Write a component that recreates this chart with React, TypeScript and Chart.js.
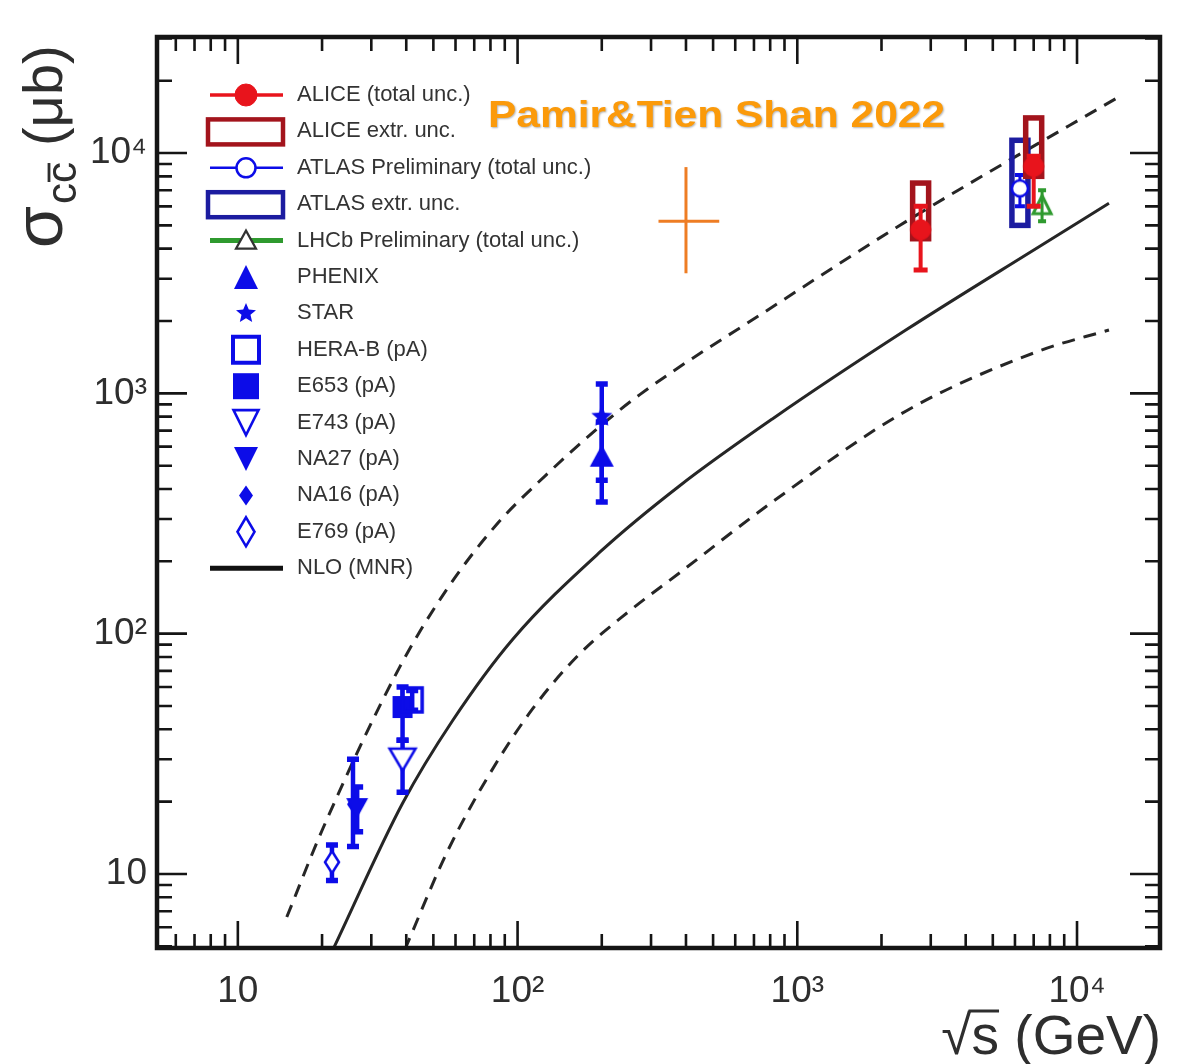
import React, { useEffect, useRef } from 'react';
import { Chart, registerables } from 'chart.js';

Chart.register(...registerables);

const FONT = '"Liberation Sans", Arial, Helvetica, sans-serif';
const INK = '#2e2e2e';

// ---------- axes ----------
const X_MIN = 5.14;
const X_MAX = 19800;
const Y_MIN = 4.92;
const Y_MAX = 30400;
const MAJOR_TICKS = [10, 100, 1000, 10000];
const MAJOR_LABELS = ['10', '10²', '10³', '10⁴'];
const MINOR_STEPS = [2, 3, 4, 5, 6, 7, 8, 9];
const DECADES = [1, 10, 100, 1000, 10000];

// ---------- NLO (MNR) curves ----------
const nloX = [21.84, 38.85, 58.61, 95.96, 196.3, 378.9, 814.4, 2451, 7316, 13010];
const nloY = [4.83, 19.75, 43.53, 94.6, 217.7, 411.7, 782.5, 1838, 4075, 6176];
const nloUpX = [14.96, 20.12, 37.89, 55.78, 84.14, 126.9, 196.3, 272.7, 814.4, 2314, 4014, 13780];
const nloUpY = [6.62, 15.42, 72.6, 152.6, 284.5, 459.3, 725.5, 985.8, 2287, 4983, 7325, 16860];
const nloLoX = [39.48, 55.78, 77.5, 113.1, 166.5, 251.2, 378.9, 814.4, 2451, 7316, 13010];
const nloLoY = [4.83, 12.23, 24.85, 48.6, 82.3, 124.3, 178.9, 353.2, 845, 1501, 1836];

// ---------- measurements ----------
const aliceX = [2760, 7000];
const aliceY = [4800, 8800];
const aliceLo = [3260, 6000];
const aliceHi = [6000, 9700];
const aliceExtrLo = [4400, 8000];
const aliceExtrHi = [7500, 14000];

const atlasX = [6250];
const atlasY = [7130];
const atlasLo = [6000];
const atlasHi = [8100];
const atlasExtrLo = [5000];
const atlasExtrHi = [11300];

const lhcbX = [7500];
const lhcbY = [6100];
const lhcbLo = [5200];
const lhcbHi = [7000];

const phenixX = [200];
const phenixY = [550];
const phenixLo = [353];
const phenixHi = [760];

const starX = [200];
const starY = [800];
const starLo = [435];
const starHi = [1093];

const herabX = [42];
const herabY = [53];
const herabLo = [48];
const herabHi = [58];

const e653X = [38.8];
const e653Y = [49.5];
const e653Lo = [36];
const e653Hi = [60];

const e743X = [38.8];
const e743Y = [29.9];
const e743Lo = [21.9];
const e743Hi = [36];

const na27X = [26.7];
const na27Y = [18.8];
const na27Lo = [15];
const na27Hi = [23];

const na16X = [25.8];
const na16Y = [19.5];
const na16Lo = [13];
const na16Hi = [30];

const e769X = [21.7];
const e769Y = [11.2];
const e769Lo = [9.4];
const e769Hi = [13.2];

const pamirX = [400];
const pamirY = [5200];
const pamirXLo = [319];
const pamirXHi = [526];
const pamirYLo = [3160];
const pamirYHi = [8740];

const LEGEND_LABELS = [
  'ALICE (total unc.)',
  'ALICE extr. unc.',
  'ATLAS Preliminary (total unc.)',
  'ATLAS extr. unc.',
  'LHCb Preliminary (total unc.)',
  'PHENIX',
  'STAR',
  'HERA-B (pA)',
  'E653 (pA)',
  'E743 (pA)',
  'NA27 (pA)',
  'NA16 (pA)',
  'E769 (pA)',
  'NLO (MNR)',
];

const ANNOTATION_TEXT = 'Pamir&Tien Shan 2022';

// ---------- colours ----------
const RED = '#e8141c';
const DARK_RED = '#a3141c';
const BLUE = '#0c0ce8';
const DARK_BLUE = '#1c1ca0';
const GREEN = '#2f9a2f';
const ORANGE = '#ee7d24';
const ORANGE_TEXT = '#fb9a0a';

const ALL_TICKS = DECADES.flatMap((d) => [1, ...MINOR_STEPS].map((m) => m * d));

function pts(xs: number[], ys: number[]) {
  return xs.map((x, i) => ({ x, y: ys[i] }));
}

function pathShape(ctx: CanvasRenderingContext2D, shape: string, cx: number, cy: number, w: number, h: number) {
  ctx.beginPath();
  switch (shape) {
    case 'circle':
      ctx.ellipse(cx, cy, w / 2, h / 2, 0, 0, Math.PI * 2);
      break;
    case 'square':
      ctx.rect(cx - w / 2, cy - h / 2, w, h);
      break;
    case 'triUp':
      ctx.moveTo(cx, cy - h / 2);
      ctx.lineTo(cx + w / 2, cy + h / 2);
      ctx.lineTo(cx - w / 2, cy + h / 2);
      ctx.closePath();
      break;
    case 'triDown':
      ctx.moveTo(cx - w / 2, cy - h / 2);
      ctx.lineTo(cx + w / 2, cy - h / 2);
      ctx.lineTo(cx, cy + h / 2);
      ctx.closePath();
      break;
    case 'diamond':
      ctx.moveTo(cx, cy - h / 2);
      ctx.lineTo(cx + w / 2, cy);
      ctx.lineTo(cx, cy + h / 2);
      ctx.lineTo(cx - w / 2, cy);
      ctx.closePath();
      break;
    case 'star': {
      const R = w / 2;
      const r = R * 0.45;
      for (let i = 0; i < 10; i++) {
        const rad = i % 2 === 0 ? R : r;
        const a = -Math.PI / 2 + (i * Math.PI) / 5;
        const px = cx + rad * Math.cos(a);
        const py = cy + rad * Math.sin(a);
        if (i === 0) ctx.moveTo(px, py);
        else ctx.lineTo(px, py);
      }
      ctx.closePath();
      break;
    }
  }
}

function drawShape(ctx: CanvasRenderingContext2D, shape: string, cx: number, cy: number, w: number, h: number, fill: string | null, stroke: string | null, lw: number) {
  pathShape(ctx, shape, cx, cy, w, h);
  if (fill) {
    ctx.fillStyle = fill;
    ctx.fill();
  }
  if (stroke) {
    ctx.lineWidth = lw;
    ctx.strokeStyle = stroke;
    ctx.stroke();
  }
}

function makeMarker(shape: string, w: number, h: number, fill: string | null, stroke: string | null, lw: number) {
  const pad = Math.ceil(lw) + 2;
  const c = document.createElement('canvas');
  c.width = w + 2 * pad;
  c.height = h + 2 * pad;
  const ctx = c.getContext('2d') as CanvasRenderingContext2D;
  drawShape(ctx, shape, c.width / 2, c.height / 2, w, h, fill, stroke, lw);
  return c;
}

function isMajor(v: number) {
  return MAJOR_TICKS.some((m) => Math.abs(m - v) < 1e-9 * m);
}

function tickLabel(v: any) {
  const i = MAJOR_TICKS.findIndex((m) => Math.abs(m - Number(v)) < 1e-9 * m);
  return i >= 0 ? MAJOR_LABELS[i] : '';
}

const errorPlugin = {
  id: 'errorBars',
  beforeDatasetDraw(chart: any, args: any) {
    const ds = chart.data.datasets[args.index];
    const { ctx } = chart;
    const xs = chart.scales.x;
    const ys = chart.scales.y;
    const a = chart.chartArea;
    ctx.save();
    ctx.beginPath();
    ctx.rect(a.left, a.top, a.right - a.left, a.bottom - a.top);
    ctx.clip();
    ds.data.forEach((p: any, i: number) => {
      const px = xs.getPixelForValue(p.x);
      const py = ys.getPixelForValue(p.y);
      if (ds.boxLo) {
        const y1 = ys.getPixelForValue(ds.boxHi[i]);
        const y2 = ys.getPixelForValue(ds.boxLo[i]);
        ctx.strokeStyle = ds.boxColor;
        ctx.lineWidth = 5.5;
        ctx.strokeRect(px - ds.boxHalf, y1, 2 * ds.boxHalf, y2 - y1);
      }
      if (ds.errLo) {
        const y1 = ys.getPixelForValue(ds.errHi[i]);
        const y2 = ys.getPixelForValue(ds.errLo[i]);
        ctx.strokeStyle = ds.errColor;
        ctx.lineWidth = ds.errWidth;
        ctx.beginPath();
        ctx.moveTo(px, y1);
        ctx.lineTo(px, y2);
        ctx.stroke();
        if (ds.capHalf) {
          ctx.lineWidth = ds.errWidth + 1;
          ctx.beginPath();
          ctx.moveTo(px - ds.capHalf, y1);
          ctx.lineTo(px + ds.capHalf, y1);
          ctx.moveTo(px - ds.capHalf, y2);
          ctx.lineTo(px + ds.capHalf, y2);
          ctx.stroke();
        }
      }
      if (ds.xErrLo) {
        const x1 = xs.getPixelForValue(ds.xErrLo[i]);
        const x2 = xs.getPixelForValue(ds.xErrHi[i]);
        ctx.strokeStyle = ds.errColor;
        ctx.lineWidth = ds.errWidth;
        ctx.beginPath();
        ctx.moveTo(x1, py);
        ctx.lineTo(x2, py);
        ctx.stroke();
      }
    });
    ctx.restore();
  },
};

const decorPlugin = {
  id: 'decor',
  afterDraw(chart: any) {
    const { ctx } = chart;
    const a = chart.chartArea;
    const xs = chart.scales.x;
    const ys = chart.scales.y;
    ctx.save();
    // inward ticks on all four sides
    ctx.strokeStyle = '#151515';
    ctx.lineWidth = 2.6;
    ctx.beginPath();
    xs.ticks.forEach((t: any) => {
      const px = xs.getPixelForValue(t.value);
      const L = isMajor(t.value) ? 27 : 14;
      ctx.moveTo(px, a.bottom);
      ctx.lineTo(px, a.bottom - L);
      ctx.moveTo(px, a.top);
      ctx.lineTo(px, a.top + L);
    });
    ys.ticks.forEach((t: any) => {
      const py = ys.getPixelForValue(t.value);
      const L = isMajor(t.value) ? 30 : 15;
      ctx.moveTo(a.left, py);
      ctx.lineTo(a.left + L, py);
      ctx.moveTo(a.right, py);
      ctx.lineTo(a.right - L, py);
    });
    ctx.stroke();
    // frame
    ctx.lineWidth = 4.5;
    ctx.strokeRect(a.left, a.top, a.right - a.left, a.bottom - a.top);

    // x title
    ctx.fillStyle = INK;
    ctx.strokeStyle = INK;
    ctx.font = `55px ${FONT}`;
    ctx.textBaseline = 'alphabetic';
    ctx.textAlign = 'left';
    const xt = '√s (GeV)';
    const wFull = ctx.measureText(xt).width;
    const wRoot = ctx.measureText('√').width;
    const wS = ctx.measureText('s').width;
    const x0 = 1161 - wFull;
    const base = 1054;
    ctx.fillText(xt, x0, base);
    ctx.lineWidth = 3;
    ctx.beginPath();
    ctx.moveTo(x0 + wRoot - 3, base - 43);
    ctx.lineTo(x0 + wRoot + wS, base - 43);
    ctx.stroke();

    // y title (rotated)
    ctx.save();
    ctx.translate(62, 248);
    ctx.rotate(-Math.PI / 2);
    ctx.font = `68px ${FONT}`;
    ctx.fillText('σ', 0, 0);
    const wSig = ctx.measureText('σ').width;
    ctx.font = `42px ${FONT}`;
    const sx = wSig + 2;
    const sb = 14;
    ctx.fillText('cc', sx, sb);
    const wc = ctx.measureText('c').width;
    ctx.lineWidth = 2.8;
    ctx.beginPath();
    ctx.moveTo(sx + wc + 1, sb - 27);
    ctx.lineTo(sx + 2 * wc - 1, sb - 27);
    ctx.stroke();
    ctx.font = `56px ${FONT}`;
    ctx.fillText('(μb)', sx + 2 * wc + 16, 0);
    ctx.restore();

    // annotation
    ctx.save();
    ctx.font = `bold 36px ${FONT}`;
    const wA = ctx.measureText(ANNOTATION_TEXT).width;
    ctx.translate(488, 127);
    ctx.scale(457 / wA, 1);
    ctx.shadowColor = 'rgba(0,0,0,0.3)';
    ctx.shadowOffsetX = 1;
    ctx.shadowOffsetY = 1;
    ctx.shadowBlur = 2;
    ctx.fillStyle = ORANGE_TEXT;
    ctx.fillText(ANNOTATION_TEXT, 0, 0);
    ctx.restore();

    // legend
    const symX = 246;
    const lx1 = 210;
    const lx2 = 283;
    ctx.font = `22px ${FONT}`;
    ctx.textBaseline = 'middle';
    LEGEND_LABELS.forEach((label, i) => {
      const y = 95 + 36.4 * i;
      ctx.fillStyle = '#333';
      ctx.fillText(label, 297, y);
      const line = (color: string, lw: number) => {
        ctx.strokeStyle = color;
        ctx.lineWidth = lw;
        ctx.beginPath();
        ctx.moveTo(lx1, y);
        ctx.lineTo(lx2, y);
        ctx.stroke();
      };
      switch (i) {
        case 0:
          line(RED, 3.5);
          drawShape(ctx, 'circle', symX, y, 22, 22, RED, RED, 1);
          break;
        case 1:
          ctx.strokeStyle = DARK_RED;
          ctx.lineWidth = 4.5;
          ctx.strokeRect(208, y - 12, 75, 25);
          break;
        case 2:
          line(BLUE, 2.5);
          drawShape(ctx, 'circle', symX, y, 19, 19, '#fff', BLUE, 2.5);
          break;
        case 3:
          ctx.strokeStyle = DARK_BLUE;
          ctx.lineWidth = 4.5;
          ctx.strokeRect(208, y - 12, 75, 25);
          break;
        case 4:
          line(GREEN, 5);
          drawShape(ctx, 'triUp', symX, y - 1, 20, 18, '#fff', '#333', 2.2);
          break;
        case 5:
          drawShape(ctx, 'triUp', symX, y, 24, 24, BLUE, null, 0);
          break;
        case 6:
          drawShape(ctx, 'star', symX, y, 21, 21, BLUE, null, 0);
          break;
        case 7:
          drawShape(ctx, 'square', symX, y, 26, 26, null, BLUE, 4);
          break;
        case 8:
          drawShape(ctx, 'square', symX, y, 26, 26, BLUE, null, 0);
          break;
        case 9:
          drawShape(ctx, 'triDown', symX, y, 25, 25, '#fff', BLUE, 2.6);
          break;
        case 10:
          drawShape(ctx, 'triDown', symX, y, 24, 24, BLUE, null, 0);
          break;
        case 11:
          drawShape(ctx, 'diamond', symX, y, 14, 20, BLUE, null, 0);
          break;
        case 12:
          drawShape(ctx, 'diamond', symX, y, 17, 29, '#fff', BLUE, 2.6);
          break;
        case 13:
          line('#111', 5);
          break;
      }
    });
    ctx.restore();
  },
};

export default function App() {
  const ref = useRef<HTMLCanvasElement | null>(null);

  useEffect(() => {
    if (!ref.current) return;
    const mk = {
      alice: makeMarker('circle', 20, 20, RED, RED, 1),
      atlas: makeMarker('circle', 16, 16, '#fff', BLUE, 2.5),
      lhcb: makeMarker('triUp', 18, 18, null, GREEN, 3),
      phenix: makeMarker('triUp', 24, 22, BLUE, null, 0),
      star: makeMarker('star', 22, 22, BLUE, null, 0),
      herab: makeMarker('square', 20, 24, null, BLUE, 3.5),
      e653: makeMarker('square', 20, 22, BLUE, null, 0),
      e743: makeMarker('triDown', 26, 22, '#fff', BLUE, 2.5),
      na27: makeMarker('triDown', 22, 20, BLUE, null, 0),
      na16: makeMarker('diamond', 12, 18, BLUE, null, 0),
      e769: makeMarker('diamond', 14, 22, '#fff', BLUE, 2.5),
    };
    const blueErr = { errColor: BLUE, errWidth: 4.5, capHalf: 6 };
    const point = (label: string, xs: number[], ys: number[], marker: any, extra: any) => ({
      label,
      data: pts(xs, ys),
      pointStyle: marker,
      pointRadius: 10,
      showLine: false,
      ...extra,
    });
    const curve = (label: string, xs: number[], ys: number[], dash: number[]) => ({
      label,
      data: pts(xs, ys),
      showLine: true,
      pointRadius: 0,
      borderColor: '#262626',
      borderWidth: 3,
      borderDash: dash,
      cubicInterpolationMode: 'monotone',
      fill: false,
    });

    const chart = new Chart(ref.current, {
      type: 'scatter',
      data: {
        datasets: [
          point('ALICE', aliceX, aliceY, mk.alice, {
            errLo: aliceLo, errHi: aliceHi, errColor: RED, errWidth: 4, capHalf: 7,
            boxLo: aliceExtrLo, boxHi: aliceExtrHi, boxColor: DARK_RED, boxHalf: 8,
          }),
          point('LHCb', lhcbX, lhcbY, mk.lhcb, { errLo: lhcbLo, errHi: lhcbHi, errColor: GREEN, errWidth: 3, capHalf: 4 }),
          point('ATLAS', atlasX, atlasY, mk.atlas, {
            errLo: atlasLo, errHi: atlasHi, errColor: BLUE, errWidth: 3, capHalf: 5,
            boxLo: atlasExtrLo, boxHi: atlasExtrHi, boxColor: DARK_BLUE, boxHalf: 8,
          }),
          point('STAR', starX, starY, mk.star, { errLo: starLo, errHi: starHi, ...blueErr }),
          point('PHENIX', phenixX, phenixY, mk.phenix, { errLo: phenixLo, errHi: phenixHi, ...blueErr }),
          point('HERA-B', herabX, herabY, mk.herab, { errLo: herabLo, errHi: herabHi, ...blueErr }),
          point('E653', e653X, e653Y, mk.e653, { errLo: e653Lo, errHi: e653Hi, ...blueErr }),
          point('E743', e743X, e743Y, mk.e743, { errLo: e743Lo, errHi: e743Hi, ...blueErr }),
          point('NA27', na27X, na27Y, mk.na27, { errLo: na27Lo, errHi: na27Hi, ...blueErr }),
          point('NA16', na16X, na16Y, mk.na16, { errLo: na16Lo, errHi: na16Hi, ...blueErr }),
          point('E769', e769X, e769Y, mk.e769, { errLo: e769Lo, errHi: e769Hi, ...blueErr }),
          {
            label: 'Pamir&Tien Shan',
            data: pts(pamirX, pamirY),
            pointRadius: 0,
            showLine: false,
            errLo: pamirYLo,
            errHi: pamirYHi,
            xErrLo: pamirXLo,
            xErrHi: pamirXHi,
            errColor: ORANGE,
            errWidth: 3,
            capHalf: 0,
          },
          curve('NLO (MNR)', nloX, nloY, []),
          curve('NLO upper', nloUpX, nloUpY, [13, 9]),
          curve('NLO lower', nloLoX, nloLoY, [13, 9]),
        ] as any,
      },
      options: {
        responsive: false,
        animation: false,
        events: [],
        layout: { padding: { top: 37, right: 19, left: 0, bottom: 0 } },
        plugins: { legend: { display: false }, tooltip: { enabled: false } },
        scales: {
          x: {
            type: 'logarithmic',
            position: 'bottom',
            min: X_MIN,
            max: X_MAX,
            grid: { display: false, drawTicks: false },
            border: { display: false },
            afterBuildTicks: (s: any) => {
              s.ticks = ALL_TICKS.filter((v) => v >= X_MIN && v <= X_MAX).map((v) => ({ value: v }));
            },
            afterFit: (s: any) => {
              s.height = 116;
            },
            ticks: {
              autoSkip: false,
              maxRotation: 0,
              minRotation: 0,
              padding: 22,
              color: INK,
              font: { family: FONT, size: 37 },
              callback: (v: any) => tickLabel(v),
            },
          },
          y: {
            type: 'logarithmic',
            position: 'left',
            min: Y_MIN,
            max: Y_MAX,
            grid: { display: false, drawTicks: false },
            border: { display: false },
            afterBuildTicks: (s: any) => {
              s.ticks = ALL_TICKS.filter((v) => v >= Y_MIN && v <= Y_MAX).map((v) => ({ value: v }));
            },
            afterFit: (s: any) => {
              s.width = 157;
            },
            ticks: {
              autoSkip: false,
              padding: 10,
              color: INK,
              font: { family: FONT, size: 37 },
              callback: (v: any) => tickLabel(v),
            },
          },
        },
      } as any,
      plugins: [errorPlugin, decorPlugin],
    });
    return () => chart.destroy();
  }, []);

  return (
    <div style={{ position: 'absolute', left: 0, top: 0, width: 1179, height: 1064, background: '#fff' }}>
      <canvas ref={ref} width={1179} height={1064} style={{ display: 'block', width: 1179, height: 1064 }} />
    </div>
  );
}
